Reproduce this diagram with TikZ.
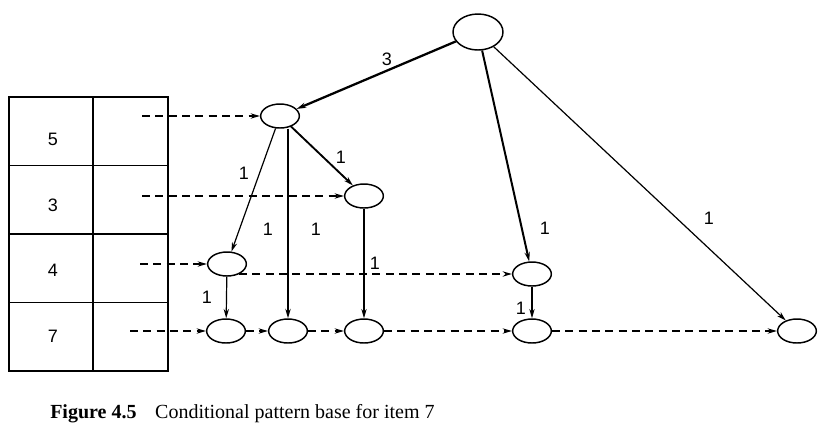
\documentclass[tikz,border=0pt]{standalone}
\usepackage{fontspec}
\setmainfont{Liberation Serif}
\newfontfamily\countfont{Liberation Sans}
\usetikzlibrary{arrows.meta,shapes.geometric}
\tikzset{fpnode/.style={ellipse,draw,line width=1.1pt,minimum width=29pt,minimum height=18pt,inner sep=0pt},
  cell/.style={rectangle,draw,line width=1.1pt,minimum height=51.4pt,inner sep=0pt},
  branch/.style={-{Stealth[length=7pt,width=4pt]},line width=.9pt},
  heavy/.style={branch,line width=1.7pt},
  nodelink/.style={-{Stealth[length=7pt,width=4pt]},dash pattern=on 6pt off 4pt,line width=1pt},
  count/.style={font=\countfont\fontsize{13.5}{14}\selectfont,inner sep=0pt}}

\begin{document}
\begin{tikzpicture}[x=0.75pt,y=-0.75pt]
  \path[use as bounding box] (0,0) rectangle (833,426);
  % header table
  \foreach \v/\y/\t in {5/131.25/139,3/199.75/205,4/268.25/270,7/336.75/336}{
    \node[cell,minimum width=63pt] (i\v) at (51,\y) {};
    \node[cell,minimum width=56.25pt] (l\v) at (130.5,\y) {};
    \node[count] (t\v) at (53,\t) {\v};
  }
  \coordinate (s5) at (142,116);
  \coordinate (s3) at (142,196);
  \coordinate (s4) at (140,264);
  \coordinate (s7) at (130,331);
  % tree
  \node[fpnode,minimum width=37.5pt,minimum height=27pt] (root) at (478,32) {};
  \node[fpnode] (n5) at (280,116) {};
  \node[fpnode] (n3) at (364,196) {};
  \node[fpnode] (n4) at (227,264) {};
  \node[fpnode] (r4) at (532,274) {};
  \foreach \n/\x in {m7a/226,m7b/288,m7c/364,r7/532,f7/797}{
    \node[fpnode] (\n) at (\x,331) {};
  }
  \draw[heavy] (root) -- (n5);
  \draw[heavy,line width=1.5pt] (root) -- (r4);
  \draw[branch] (root) -- (f7);
  \draw[branch] (n5) -- (n4);
  \draw[heavy,line width=1.4pt] (n5) -- (n3);
  \draw[heavy,line width=1.3pt] (n5.south -| m7b.north) -- (m7b.north);
  \draw[branch] (n4) -- (m7a);
  \draw[branch] (n3) -- (m7c);
  \draw[branch] (r4) -- (r7);
  % node-links
  \draw[nodelink] (s5) -- (n5.west);
  \draw[nodelink] (s3) -- (n3.west);
  \draw[nodelink] (s4) -- (n4.west);
  \draw[nodelink] (s7) -- (m7a.west);
  \draw[nodelink] (n4.-40 |- r4.west) -- (r4.west);
  \draw[nodelink] (m7a) -- (m7b);
  \draw[nodelink] (m7b) -- (m7c);
  \draw[nodelink] (m7c) -- (r7);
  \draw[nodelink] (r7) -- (f7);
  % counts
  \node[count] (c0) at (387,59) {3};
  \foreach \x/\y [count=\k] in {545/228,709/218,244/173,341/157,268/229,316/229,375/263,207/297,521/308}{
    \node[count] (c\k) at (\x,\y) {1};
  }
  \node[anchor=base west,font=\fontsize{15}{16}\selectfont,inner sep=0pt] (cap) at (50,418)
    {\textbf{Figure 4.5}\hspace{14pt}Conditional pattern base for item 7};
\end{tikzpicture}
\end{document}
